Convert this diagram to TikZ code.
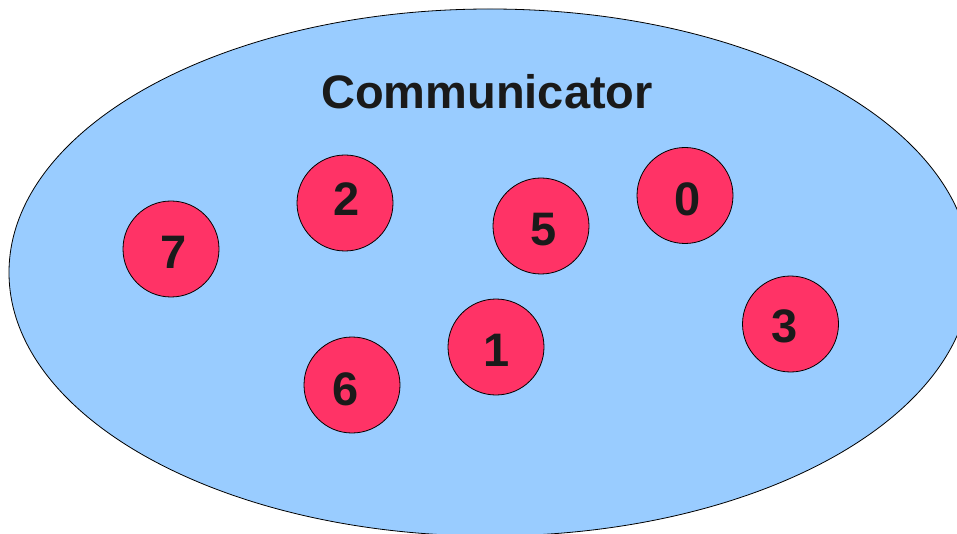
\documentclass[tikz,border=0pt]{standalone}
\usepackage{fontspec}
\usetikzlibrary{shapes.geometric}
\setmainfont{Liberation Sans}
\definecolor{commfill}{HTML}{99CCFF}
\definecolor{rankfill}{HTML}{FF3366}
\definecolor{inkdark}{HTML}{1A1A1A}
\begin{document}
\begin{tikzpicture}[x=1pt,y=-1pt,
  rank/.style={circle,draw=black,line width=0.8pt,fill=rankfill,minimum size=96pt,inner sep=0pt},
  ranknum/.style={inner sep=0pt,text=inkdark,font=\fontsize{47}{47}\selectfont\bfseries}]
  \useasboundingbox (0,0) rectangle (957,534);
  % communicator group
  \node[ellipse,draw=black,line width=0.8pt,fill=commfill,minimum width=962pt,minimum height=527pt,inner sep=0pt] (comm) at (490,272.5) {};
  \node[text=inkdark,font=\fontsize{47}{47}\selectfont\bfseries,inner sep=0pt] (title) at (487,92) {Communicator};
  % processes with their ranks
  \node[rank] (r7) at (171,249) {};
  \node[ranknum] (t7) at (173.3,252) {7};
  \node[rank] (r2) at (345,203) {};
  \node[ranknum] (t2) at (347,199) {2};
  \node[rank] (r5) at (541,226) {};
  \node[ranknum] (t5) at (543.5,230) {5};
  \node[rank] (r0) at (685,195.5) {};
  \node[ranknum] (t0) at (687.5,199) {0};
  \node[rank] (r3) at (790.5,324) {};
  \node[ranknum] (t3) at (785,326) {3};
  \node[rank] (r1) at (496,347) {};
  \node[ranknum] (t1) at (497,350) {1};
  \node[rank] (r6) at (352,385) {};
  \node[ranknum] (t6) at (346,389) {6};
\end{tikzpicture}
\end{document}
